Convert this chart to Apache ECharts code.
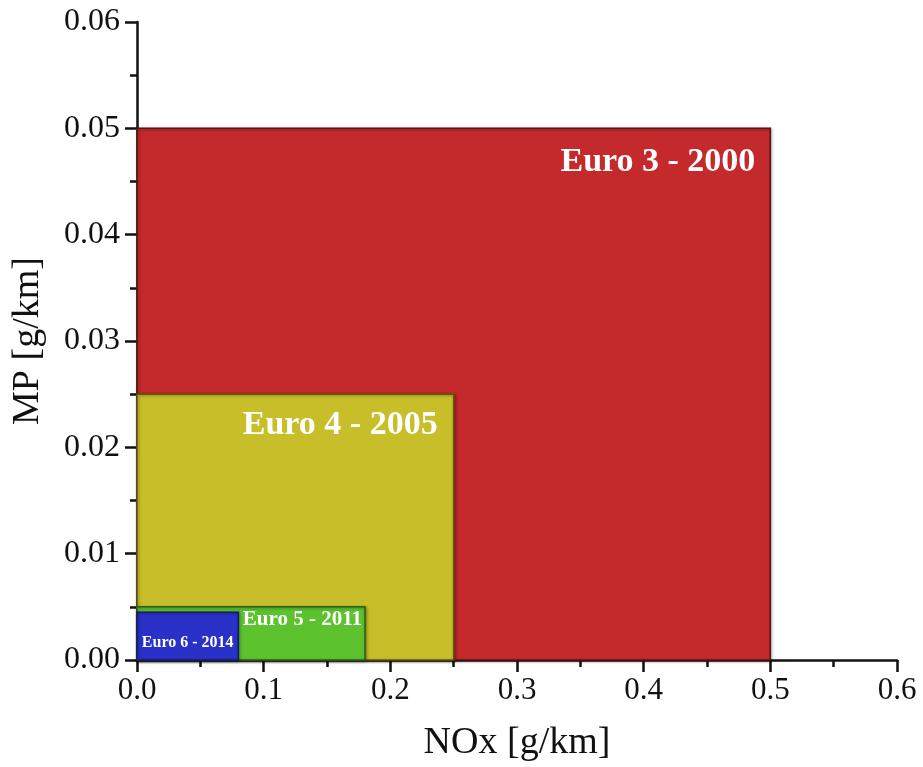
<!DOCTYPE html>
<html><head><meta charset="utf-8">
<script src="https://cdn.jsdelivr.net/npm/echarts@6/dist/echarts.min.js"></script>
<style>html,body{margin:0;padding:0;background:#fff}#c{width:923px;height:767px}</style>
</head><body><div id="c"></div>
<script>
var standards = ['Euro 3 - 2000', 'Euro 4 - 2005', 'Euro 5 - 2011', 'Euro 6 - 2014'];
var noxLimits = [0.5, 0.25, 0.18, 0.08];
var pmLimits = [0.05, 0.025, 0.005, 0.0045];
var xTicks = ['0.0','0.1','0.2','0.3','0.4','0.5','0.6'];
var yTicks = ['0.00','0.01','0.02','0.03','0.04','0.05','0.06'];

var fills = ['#C4292B', '#C7BE2A', '#5CC22E', '#2A31C9'];
var strokes = ['#5a1414', '#5f5a12', '#2c5e16', '#151a66'];
var labelFont = [34, 34, 21, 16];
var labelDx = [15, 16, 3, 0];
var labelDy = [34, 31, 13, 31];
var labelCenter = [false, false, false, true];

var FONT = "'Liberation Serif','Times New Roman',serif";
var chart = echarts.init(document.getElementById('c'));
var data = standards.map(function (n, i) { return [noxLimits[i], pmLimits[i], i]; });

chart.setOption({
  animation: false,
  grid: { left: 137, right: 26, top: 22, bottom: 106 },
  xAxis: {
    type: 'value', min: 0, max: 0.6, interval: 0.1,
    name: 'NOx [g/km]', nameLocation: 'middle', nameGap: 64,
    nameTextStyle: { fontFamily: FONT, fontSize: 38, color: '#111' },
    axisLine: { show: true, lineStyle: { color: '#111', width: 2.5 } },
    axisTick: { show: true, inside: false, length: 12, lineStyle: { color: '#111', width: 2.5 } },
    minorTick: { show: true, splitNumber: 2, length: 7, lineStyle: { color: '#111', width: 2.5 } },
    splitLine: { show: false },
    axisLabel: { fontFamily: FONT, fontSize: 31, color: '#111', margin: 15,
      formatter: function (v) { return xTicks[Math.round(v * 10)]; } }
  },
  yAxis: {
    type: 'value', min: 0, max: 0.06, interval: 0.01,
    name: 'MP [g/km]', nameLocation: 'middle', nameGap: 90, nameRotate: 90,
    nameTextStyle: { fontFamily: FONT, fontSize: 38, color: '#111' },
    axisLine: { show: true, lineStyle: { color: '#111', width: 2.5 } },
    axisTick: { show: true, inside: false, length: 12, lineStyle: { color: '#111', width: 2.5 } },
    minorTick: { show: true, splitNumber: 2, length: 7, lineStyle: { color: '#111', width: 2.5 } },
    splitLine: { show: false },
    axisLabel: { fontFamily: FONT, fontSize: 32, color: '#111', margin: 17,
      formatter: function (v) { return yTicks[Math.round(v * 100)]; } }
  },
  series: [{
    type: 'custom',
    data: data,
    encode: { x: 0, y: 1 },
    z: 1,
    renderItem: function (params, api) {
      var i = api.value(2);
      var p0 = api.coord([0, 0]);
      var p1 = api.coord([api.value(0), api.value(1)]);
      var rect = {
        type: 'rect',
        shape: { x: p0[0], y: p1[1], width: p1[0] - p0[0], height: p0[1] - p1[1] },
        style: { fill: fills[i], stroke: strokes[i], lineWidth: 1.5,
          shadowBlur: 3, shadowColor: 'rgba(0,0,0,0.35)', shadowOffsetX: 1, shadowOffsetY: 1 }
      };
      var tx = labelCenter[i] ? (p0[0] + p1[0]) / 2 : p1[0] - labelDx[i];
      var text = {
        type: 'text',
        style: { text: standards[i], x: tx, y: p1[1] + labelDy[i],
          align: labelCenter[i] ? 'center' : 'right', verticalAlign: 'middle',
          fill: '#fff', fontFamily: FONT, fontWeight: 'bold', fontSize: labelFont[i] }
      };
      return { type: 'group', children: [rect, text] };
    }
  }]
});
</script></body></html>
